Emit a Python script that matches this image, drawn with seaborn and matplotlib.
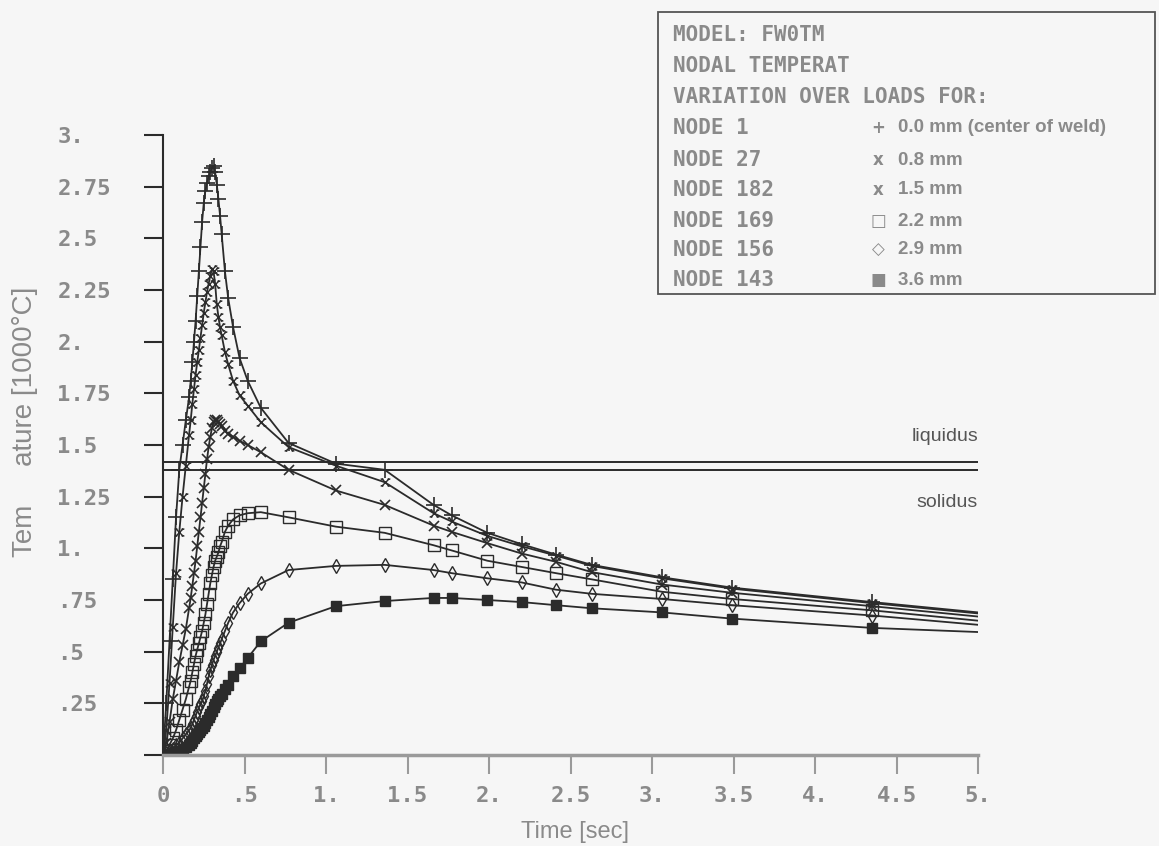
import matplotlib
matplotlib.use("Agg")
import matplotlib.pyplot as plt
import seaborn as sns
from matplotlib.path import Path
from matplotlib.patches import Rectangle

# time steps of the FE output (sec)
time_s = [0.00, 0.02, 0.04, 0.06, 0.08, 0.10, 0.12, 0.14,
          0.16, 0.17, 0.18, 0.19, 0.20, 0.21, 0.22, 0.23, 0.24, 0.25, 0.26,
          0.27, 0.28, 0.29, 0.30, 0.31, 0.32, 0.33, 0.34, 0.35, 0.36,
          0.38, 0.40, 0.43, 0.47, 0.52, 0.60, 0.77,
          1.06, 1.36, 1.66, 1.77, 1.99, 2.20, 2.41, 2.63, 3.06, 3.49, 4.35, 5.00]

# nodal temperatures [1000 C]
node_1 = [0.00, 0.25, 0.55, 0.85, 1.15, 1.38, 1.50, 1.62,
          1.73, 1.81, 1.90, 2.00, 2.10, 2.22, 2.34, 2.46, 2.58, 2.67, 2.73,
          2.77, 2.80, 2.82, 2.84, 2.85, 2.82, 2.76, 2.69, 2.61, 2.52,
          2.34, 2.21, 2.07, 1.92, 1.81, 1.68, 1.51,
          1.41, 1.38, 1.21, 1.16, 1.075, 1.02, 0.97, 0.92, 0.86, 0.81, 0.74, 0.69]
node_27 = [0.00, 0.12, 0.35, 0.62, 0.88, 1.08, 1.25, 1.40,
           1.55, 1.62, 1.70, 1.77, 1.84, 1.90, 1.96, 2.02, 2.08, 2.14, 2.19,
           2.24, 2.28, 2.32, 2.35, 2.34, 2.28, 2.18, 2.12, 2.07, 2.03,
           1.95, 1.89, 1.81, 1.74, 1.69, 1.61, 1.49,
           1.40, 1.32, 1.17, 1.13, 1.06, 1.01, 0.965, 0.915, 0.855, 0.805, 0.735, 0.685]
node_182 = [0.00, 0.06, 0.16, 0.27, 0.36, 0.45, 0.53, 0.61,
            0.71, 0.76, 0.82, 0.88, 0.94, 1.01, 1.08, 1.15, 1.22, 1.29, 1.36,
            1.43, 1.49, 1.54, 1.58, 1.61, 1.62, 1.62, 1.61, 1.60, 1.59,
            1.57, 1.555, 1.54, 1.52, 1.50, 1.465, 1.38,
            1.28, 1.21, 1.11, 1.08, 1.025, 0.975, 0.935, 0.885, 0.825, 0.785, 0.72, 0.67]
node_169 = [0.00, 0.02, 0.05, 0.08, 0.12, 0.17, 0.22, 0.27,
            0.33, 0.36, 0.40, 0.44, 0.48, 0.51, 0.54, 0.57, 0.60, 0.64, 0.68,
            0.73, 0.78, 0.83, 0.87, 0.91, 0.94, 0.96, 0.98, 1.01, 1.03,
            1.08, 1.11, 1.14, 1.16, 1.17, 1.175, 1.15,
            1.105, 1.075, 1.015, 0.99, 0.94, 0.91, 0.88, 0.85, 0.79, 0.755, 0.70, 0.65]
node_156 = [0.00, 0.01, 0.02, 0.03, 0.05, 0.06, 0.08, 0.10,
            0.12, 0.13, 0.15, 0.17, 0.19, 0.21, 0.23, 0.245, 0.26, 0.285, 0.31,
            0.345, 0.38, 0.41, 0.435, 0.46, 0.48, 0.50, 0.52, 0.54, 0.56,
            0.60, 0.64, 0.69, 0.735, 0.78, 0.83, 0.895,
            0.915, 0.92, 0.895, 0.88, 0.855, 0.835, 0.80, 0.78, 0.755, 0.725, 0.675, 0.63]
node_143 = [0.00, 0.00, 0.005, 0.01, 0.015, 0.02, 0.03, 0.04,
            0.05, 0.06, 0.07, 0.08, 0.09, 0.10, 0.11, 0.12, 0.13, 0.14, 0.155,
            0.17, 0.185, 0.20, 0.215, 0.23, 0.245, 0.26, 0.27, 0.285, 0.295,
            0.32, 0.34, 0.38, 0.42, 0.47, 0.55, 0.64,
            0.72, 0.745, 0.76, 0.76, 0.75, 0.74, 0.725, 0.71, 0.69, 0.66, 0.615, 0.595]

liquidus = 1.42
solidus = 1.38

node_names = ["NODE 1", "NODE 27", "NODE 182", "NODE 169", "NODE 156", "NODE 143"]
node_symbols = ["+", "x", "x", "\u25a1", "\u25c7", "\u25a0"]
node_dist = ["0.0 mm (center of weld)", "0.8 mm", "1.5 mm", "2.2 mm", "2.9 mm", "3.6 mm"]
header = ["MODEL: FW0TM", "NODAL TEMPERAT", "VARIATION OVER LOADS FOR:"]

x_ticks = [0, 0.5, 1, 1.5, 2, 2.5, 3, 3.5, 4, 4.5, 5]
x_tick_labels = ["0", ".5", "1.", "1.5", "2.", "2.5", "3.", "3.5", "4.", "4.5", "5."]
y_ticks = [0, 0.25, 0.5, 0.75, 1, 1.25, 1.5, 1.75, 2, 2.25, 2.5, 2.75, 3]
y_tick_labels = ["", ".25", ".5", ".75", "1.", "1.25", "1.5", "1.75", "2.",
                 "2.25", "2.5", "2.75", "3."]

sns.set_style("ticks")
plt.rcParams["font.family"] = ["DejaVu Sans Mono", "DejaVu Sans"]

bg = "#f6f6f6"
ink = "#2b2b2b"
grey = "#8a8a8a"
W, H = 1159, 846


def px(x, y):
    return x / W, 1 - y / H


# x marker with little serifs (0.8 mm curve)
xbar = Path(
    [(-1, -1), (1, 1), (-1, 1), (1, -1),
     (-1.4, 1), (-0.6, 1), (0.6, 1), (1.4, 1),
     (-1.4, -1), (-0.6, -1), (0.6, -1), (1.4, -1)],
    [Path.MOVETO, Path.LINETO] * 6,
)

fig = plt.figure(figsize=(W / 100, H / 100), dpi=100, facecolor=bg)
ax = fig.add_axes([163 / W, 91 / H, 815 / W, 620 / H], facecolor=bg)

series = [node_1, node_27, node_182, node_169, node_156, node_143]
styles = [
    dict(marker="+", ms=11, mew=1.2, mfc="none"),
    dict(marker=xbar, ms=7, mew=1.0, mfc="none"),
    dict(marker="x", ms=7, mew=1.2, mfc="none"),
    dict(marker="s", ms=8, mew=1.0, mfc="none"),
    dict(marker="d", ms=7.5, mew=1.0, mfc="none"),
    dict(marker="s", ms=7.5, mew=1.0, mfc=ink),
]
for vals, st in zip(series, styles):
    sns.lineplot(x=time_s, y=vals, ax=ax, color=ink, lw=1.3, mec=ink,
                 markevery=slice(0, len(time_s) - 1), **st)

ax.hlines([liquidus, solidus], 0, 5, color=ink, lw=1.4)
ax.text(1.0, 1.54, "liquidus", transform=ax.get_yaxis_transform(),
        ha="right", va="center", family="Liberation Sans", size=14, color="#555555")
ax.text(1.0, 1.22, "solidus", transform=ax.get_yaxis_transform(),
        ha="right", va="center", family="Liberation Sans", size=14, color="#555555")

ax.set_xlim(0, 5)
ax.set_ylim(0, 3)
ax.set_xticks(x_ticks)
ax.set_xticklabels(x_tick_labels)
ax.set_yticks(y_ticks)
ax.set_yticklabels(y_tick_labels)
ax.set_xlabel("")
ax.set_ylabel("")
ax.tick_params(axis="x", length=14, width=1.5, color="#9a9a9a", pad=8,
               labelsize=16, labelcolor=grey)
ax.tick_params(axis="y", length=14, width=1.5, color=ink, pad=62,
               labelsize=16, labelcolor=grey)
for lab in ax.get_yticklabels():
    lab.set_ha("left")
    lab.set_fontweight("bold")
for lab in ax.get_xticklabels():
    lab.set_fontweight("bold")

sns.despine(ax=ax)
ax.spines["left"].set_color(ink)
ax.spines["left"].set_linewidth(1.5)
ax.spines["bottom"].set_color("#9a9a9a")
ax.spines["bottom"].set_linewidth(2.5)

fig.text(*px(575, 832), "Time [sec]", ha="center", va="center",
         family="Liberation Sans", size=17, color=grey)
fig.text(*px(25, 422), "Tem     ature [1000\u00b0C]", rotation=90, ha="center",
         va="center", family="Liberation Sans", size=20, color=grey)

# header box
fig.add_artist(Rectangle(px(658, 294), 497 / W, 282 / H, transform=fig.transFigure,
                         fill=False, edgecolor="#555555", lw=1.3))
rows = [35, 66, 97, 128, 160, 190, 221, 250, 280]
for y, line in zip(rows, header):
    fig.text(*px(673, y), line, ha="left", va="center", size=15,
             weight="bold", color=grey)
for y, name, sym, dist in zip(rows[3:], node_names, node_symbols, node_dist):
    fig.text(*px(673, y), name, ha="left", va="center", size=15,
             weight="bold", color=grey)
    fig.text(*px(878, y), sym, ha="center", va="center", size=12,
             family="DejaVu Sans", weight="bold", color=grey)
    fig.text(*px(898, y), dist, ha="left", va="center", size=13.5,
             family="Liberation Sans", weight="bold", color=grey)

fig.savefig("out.png", dpi=100, facecolor=bg)
